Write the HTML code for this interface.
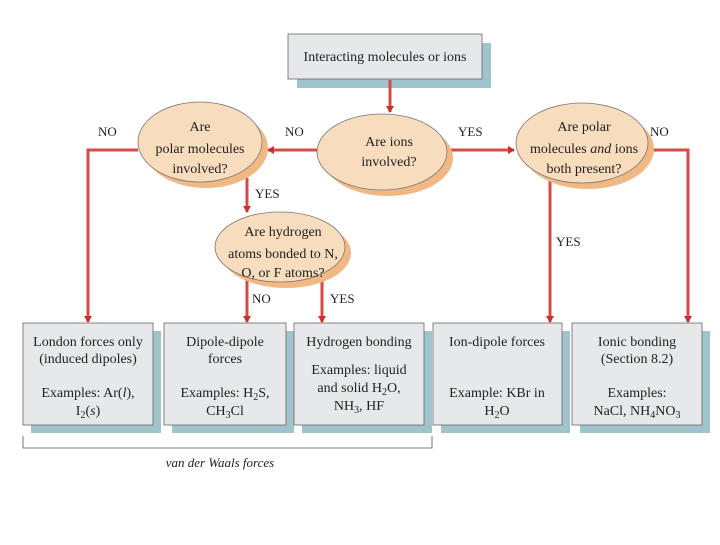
<!DOCTYPE html>
<html><head><style>
body{margin:0;background:#fff;}
svg text{font-family:"Liberation Serif",serif;fill:#222;}
</style></head><body>
<svg width="720" height="540" xmlns="http://www.w3.org/2000/svg">
<defs>
<marker id="a" markerWidth="8" markerHeight="8" refX="6" refY="4" orient="auto" markerUnits="userSpaceOnUse">
<path d="M0,0 L7,4 L0,8 Z" fill="#c9302c"/>
</marker>
</defs>
<!-- top box -->
<rect x="297" y="43" width="194" height="45" fill="#9fc4cc"/>
<rect x="288" y="34" width="194" height="45" fill="#e6e8ea" stroke="#666" stroke-width="0.8"/>
<text x="385" y="61" font-size="14" text-anchor="middle">Interacting molecules or ions</text>
<!-- connectors -->
<g stroke="#d44a44" stroke-width="3" fill="none">
<path d="M390 80 V112" marker-end="url(#a)"/>
<path d="M320 150 H268" marker-end="url(#a)"/>
<path d="M446 150 H514" marker-end="url(#a)"/>
<path d="M138 150 H88 V322" marker-end="url(#a)"/>
<path d="M247 178 V212" marker-end="url(#a)"/>
<path d="M247 278 V322" marker-end="url(#a)"/>
<path d="M322 278 V322" marker-end="url(#a)"/>
<path d="M550 170 V322" marker-end="url(#a)"/>
<path d="M646 150 H688 V322" marker-end="url(#a)"/>
</g>
<!-- ellipses -->
<g stroke="#777" stroke-width="0.8">
<ellipse cx="206" cy="148" rx="62" ry="40" fill="#f2b884" stroke="none"/>
<ellipse cx="200" cy="142" rx="62" ry="40" fill="#f7dcbd"/>
<ellipse cx="388" cy="158" rx="65" ry="38" fill="#f2b884" stroke="none"/>
<ellipse cx="382" cy="152" rx="65" ry="38" fill="#f7dcbd"/>
<ellipse cx="588" cy="149" rx="66" ry="40" fill="#f2b884" stroke="none"/>
<ellipse cx="582" cy="143" rx="66" ry="40" fill="#f7dcbd"/>
<ellipse cx="286" cy="253" rx="65" ry="35" fill="#f2b884" stroke="none"/>
<ellipse cx="280" cy="247" rx="65" ry="35" fill="#f7dcbd"/>
</g>
<g font-size="14" text-anchor="middle">
<text x="200" y="131">Are</text><text x="200" y="153">polar molecules</text><text x="200" y="175" dy="-2">involved?</text>
<text x="389" y="146">Are ions</text><text x="389" y="168" dy="-2">involved?</text>
<text x="584" y="131">Are polar</text><text x="584" y="153">molecules <tspan font-style="italic">and</tspan> ions</text><text x="584" y="173">both present?</text>
<text x="283" y="236">Are hydrogen</text><text x="283" y="258">atoms bonded to N,</text><text x="283" y="279" dy="-2">O, or F atoms?</text>
</g>
<g font-size="13">
<text x="98" y="136">NO</text><text x="285" y="136">NO</text><text x="458" y="136">YES</text><text x="650" y="136">NO</text>
<text x="255" y="198">YES</text><text x="252" y="303">NO</text><text x="330" y="303">YES</text><text x="556" y="246">YES</text>
</g>
<!-- bottom boxes -->
<g>
<rect x="31" y="331" width="130" height="102" fill="#9fc4cc"/><rect x="23" y="323" width="130" height="102" fill="#e6e8ea" stroke="#666" stroke-width="0.8"/>
<rect x="172" y="331" width="122" height="102" fill="#9fc4cc"/><rect x="164" y="323" width="122" height="102" fill="#e6e8ea" stroke="#666" stroke-width="0.8"/>
<rect x="302" y="331" width="130" height="102" fill="#9fc4cc"/><rect x="294" y="323" width="130" height="102" fill="#e6e8ea" stroke="#666" stroke-width="0.8"/>
<rect x="441" y="331" width="129" height="102" fill="#9fc4cc"/><rect x="433" y="323" width="129" height="102" fill="#e6e8ea" stroke="#666" stroke-width="0.8"/>
<rect x="580" y="331" width="130" height="102" fill="#9fc4cc"/><rect x="572" y="323" width="130" height="102" fill="#e6e8ea" stroke="#666" stroke-width="0.8"/>
</g>
<g font-size="14" text-anchor="middle">
<text x="88" y="346">London forces only</text><text x="88" y="363">(induced dipoles)</text>
<text x="88" y="397">Examples: Ar(<tspan font-style="italic">l</tspan>),</text><text x="88" y="415">I<tspan font-size="10" dy="3">2</tspan><tspan dy="-3">(</tspan><tspan font-style="italic">s</tspan>)</text>
<text x="225" y="346">Dipole-dipole</text><text x="225" y="363">forces</text>
<text x="225" y="397">Examples: H<tspan font-size="10" dy="3">2</tspan><tspan dy="-3">S,</tspan></text><text x="225" y="415">CH<tspan font-size="10" dy="3">3</tspan><tspan dy="-3">Cl</tspan></text>
<text x="359" y="346">Hydrogen bonding</text>
<text x="359" y="374">Examples: liquid</text><text x="359" y="392">and solid H<tspan font-size="10" dy="3">2</tspan><tspan dy="-3">O,</tspan></text><text x="359" y="410">NH<tspan font-size="10" dy="3">3</tspan><tspan dy="-3">, HF</tspan></text>
<text x="497" y="346">Ion-dipole forces</text>
<text x="497" y="397">Example: KBr in</text><text x="497" y="415">H<tspan font-size="10" dy="3">2</tspan><tspan dy="-3">O</tspan></text>
<text x="637" y="346">Ionic bonding</text><text x="637" y="363">(Section 8.2)</text>
<text x="637" y="397">Examples:</text><text x="637" y="415">NaCl, NH<tspan font-size="10" dy="3">4</tspan><tspan dy="-3">NO</tspan><tspan font-size="10" dy="3">3</tspan></text>
</g>
<!-- bracket -->
<path d="M23 436 V448 H432 V436" stroke="#555" stroke-width="0.8" fill="none"/>
<text x="220" y="467" font-size="13" font-style="italic" text-anchor="middle">van der Waals forces</text>
</svg>
</body></html>
